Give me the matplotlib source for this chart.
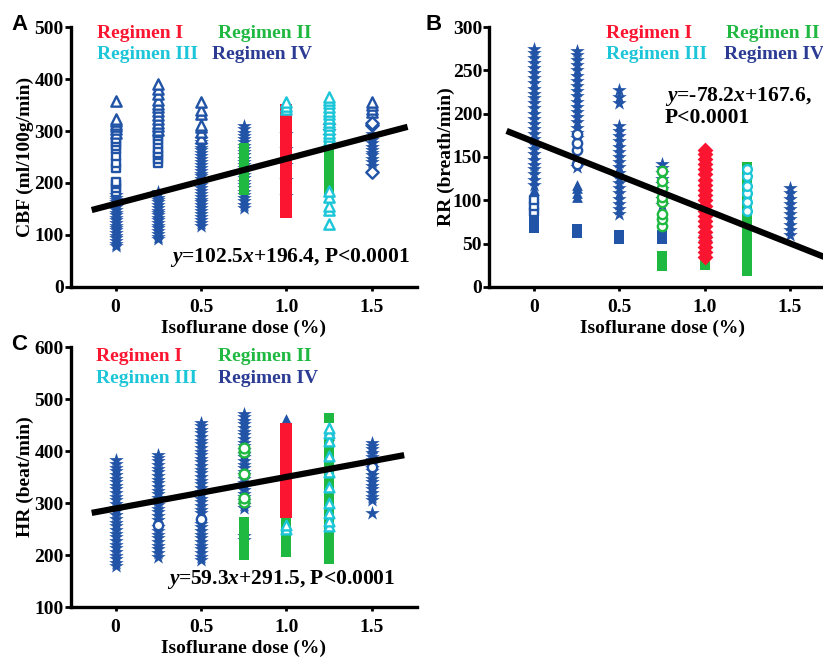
import matplotlib
matplotlib.use('Agg')
import matplotlib.pyplot as plt

plt.rcParams['font.family'] = 'Liberation Serif'
plt.rcParams['font.weight'] = 'bold'
plt.rcParams['axes.labelweight'] = 'bold'
plt.rcParams['mathtext.fontset'] = 'custom'
plt.rcParams['mathtext.it'] = 'Liberation Serif:italic:bold'
plt.rcParams['mathtext.rm'] = 'Liberation Serif:bold'

BLUE = '#2153a6'
RED = '#fb1530'
GREEN = '#1fb841'
CYAN = '#1cc6d8'
NAVY = '#2c3c94'

# ---------------- A: CBF (ml/100g/min) ----------------
cbf_iv_star = {
    0: [78, 83, 88, 94, 99, 104, 109, 113, 118, 124, 129, 133, 138, 143, 149, 154, 158, 163, 168, 172, 177],
    0.25: [92, 97, 102, 108, 113, 117, 123, 128, 132, 138, 143, 147, 152, 158, 163, 167, 172, 178, 183],
    0.5: [118, 124, 129, 135, 141, 146, 152, 157, 163, 168, 174, 179, 185, 191, 196, 201, 207, 213, 218,
          224, 229, 235, 241, 246, 252, 258, 263, 268, 274, 279, 285],
    0.75: [152, 158, 165, 171, 177, 183, 190, 196, 202, 209, 215, 221, 228, 234, 240, 246, 253, 259, 265,
           272, 278, 284, 291, 297, 303, 309],
    1.0: [175, 205, 235, 265, 295],
    1.25: [265, 290, 300, 310],
    1.5: [232, 240, 246, 253, 258, 264, 270, 276, 282, 288, 294],
}
cbf_iv_square = {
    0: [183, 190, 198, 201, 229, 238, 252, 265, 272, 279, 284],
    0.25: [238, 246, 253, 258, 266, 275, 282, 291, 297],
}
cbf_iv_tri = {
    0: [296, 303, 309, 314, 319, 324, 357],
    0.25: [302, 309, 316, 324, 331, 338, 346, 352, 360, 372, 380, 390],
    0.5: [287, 298, 308, 312, 333, 341, 356],
    1.5: [337, 343, 350, 356],
}
cbf_iv_circ = {1.5: [222, 312, 316]}
cbf_i = {1.0: [145, 152, 158, 165, 171, 178, 184, 191, 197, 204, 210, 217, 223, 230, 236, 243, 249, 256,
               262, 269, 275, 282, 288, 295, 301, 308, 314, 321, 327, 334, 340]}
cbf_ii = {
    0.75: [186, 192, 199, 205, 212, 218, 225, 231, 238, 244, 251, 257, 263, 268],
    1.25: [187, 193, 200, 206, 213, 219, 226, 232, 239, 245, 252, 258, 265, 271, 278],
}
cbf_iii = {
    1.0: [342, 348, 355],
    1.25: [122, 148, 155, 174, 184, 283, 290, 297, 304, 311, 318, 325, 332, 339, 346, 353, 360, 365],
}
cbf_fit_x = [-0.14, 1.71]
cbf_fit_y = [148, 308]

# ---------------- B: RR (breath/min) ----------------
rr_iv_star = {
    0: [118, 124, 130, 136, 141, 147, 153, 159, 165, 171, 177, 182, 188, 194, 200, 206, 212, 218, 223,
        229, 235, 241, 247, 253, 259, 264, 270, 275],
    0.25: [172, 178, 184, 190, 196, 202, 208, 214, 220, 226, 232, 238, 244, 250, 256, 262, 268, 272, 138],
    0.5: [84, 90, 96, 102, 108, 114, 120, 126, 132, 138, 144, 150, 156, 162, 168, 174, 180, 186, 212, 219, 227],
    0.75: [95, 101, 107, 113, 119, 125, 131, 137, 142],
    1.0: [52, 58],
    1.5: [60, 66, 72, 78, 84, 90, 96, 102, 108, 114],
}
rr_iv_square = {
    0: [68, 73, 78],
    0.25: [62, 67],
    0.5: [55, 60],
    0.75: [55, 60],
}
rr_iv_open_sq = {0: [86, 93, 100]}
rr_iv_tri = {0: [112], 0.25: [104, 109, 114, 118]}
rr_iv_circ = {0.25: [142, 158, 166, 176]}
rr_i = {1.0: [35, 40, 46, 52, 58, 64, 70, 76, 82, 88, 94, 100, 106, 112, 118, 124, 130, 136, 142, 148, 154, 158]}
rr_ii = {
    0.75: [24, 28, 32, 36],
    1.0: [25, 30],
    1.25: [18, 24, 30, 36, 42, 48, 54, 60, 66, 72, 78, 84, 90, 96, 102, 108, 114, 120, 126, 132, 138],
}
rr_ii_circ = {0.75: [70, 78, 84, 98, 104, 114, 122, 134]}
rr_iii = {1.25: [88, 98, 108, 116, 128, 136]}
rr_fit_x = [-0.16, 1.71]
rr_fit_y = [180.1, 33.9]

# ---------------- C: HR (beat/min) ----------------
hr_iv_star = {
    0: [178, 185, 192, 199, 206, 213, 220, 227, 234, 241, 248, 255, 262, 270, 277, 284, 291, 298, 305, 312,
        319, 326, 333, 340, 347, 354, 361, 368, 375, 382],
    0.25: [197, 204, 211, 218, 225, 232, 239, 246, 253, 268, 275, 282, 289, 296, 303, 310, 317, 324, 331,
           338, 345, 352, 359, 366, 373, 380, 387, 393],
    0.5: [190, 197, 204, 211, 218, 225, 232, 239, 246, 253, 260, 280, 287, 294, 301, 308, 315, 322, 329, 336,
          343, 350, 357, 364, 371, 378, 385, 392, 399, 406, 413, 420, 427, 434, 441, 448, 454],
    0.75: [228, 236, 290, 297, 304, 311, 318, 325, 332, 339, 346, 353, 360, 367, 374, 381, 388, 395, 402,
           409, 416, 423, 430, 437, 444, 451, 458, 465, 472],
    1.5: [280, 305, 312, 319, 326, 333, 340, 347, 354, 361, 368, 375, 382, 389, 396, 403, 410, 416],
}
hr_iv_tri = {1.0: [455, 462], 1.25: [420, 430, 440], 1.5: [405]}
hr_iv_circ = {0.25: [258], 0.5: [270], 1.5: [370]}
hr_i = {1.0: [282, 289, 296, 303, 310, 317, 324, 331, 338, 345, 352, 359, 366, 373, 380, 387, 394, 401,
              408, 415, 422, 429, 436, 443]}
hr_ii = {
    0.75: [200, 207, 214, 221, 228, 235, 242, 249, 256, 263],
    1.0: [205, 212, 219, 226, 233, 240, 247, 254, 261, 268, 275],
    1.25: [193, 200, 207, 214, 221, 228, 235, 242, 249, 256, 263, 270, 277, 284, 291, 298, 305, 312, 319,
           326, 333, 340, 347, 354, 361, 368, 375, 382, 389, 396, 403, 410, 417, 463],
}
hr_ii_circ = {0.75: [302, 310, 355, 398, 405]}
hr_iii = {1.0: [250, 258], 1.25: [255, 265, 280, 300, 330, 360, 390, 420, 435, 445]}
hr_fit_x = [-0.14, 1.69]
hr_fit_y = [281, 392]

legend_names = ['Regimen I', 'Regimen II', 'Regimen III', 'Regimen IV']
legend_colors = [RED, GREEN, CYAN, NAVY]


def draw(ax, groups, marker, color, s, open_=False):
    for dose, vals in groups.items():
        if open_:
            ax.scatter([dose] * len(vals), vals, marker=marker, s=s, facecolors='white',
                       edgecolors=color, linewidths=1.7, zorder=3)
        else:
            ax.scatter([dose] * len(vals), vals, marker=marker, s=s, color=color,
                       linewidths=0, zorder=2)


def style(ax, ylim, yticks, ylabel, lab_x, legend_pos, rows):
    ax.set_xlim(-0.263, 1.765)
    ax.set_ylim(*ylim)
    ax.set_yticks(yticks)
    ax.set_xticks([0, 0.5, 1.0, 1.5])
    ax.set_xticklabels(['0', '0.5', '1.0', '1.5'])
    for sp in ['top', 'right']:
        ax.spines[sp].set_visible(False)
    for sp in ['left', 'bottom']:
        ax.spines[sp].set_linewidth(2.4)
    ax.tick_params(axis='y', length=4, width=2, pad=1, labelsize=14)
    ax.tick_params(axis='x', length=3, width=2, pad=6, labelsize=14)
    ax.set_ylabel(ylabel, fontsize=14)
    ax.yaxis.set_label_coords(lab_x, 0.5)
    ax.set_xlabel('Isoflurane dose (%)', fontsize=14)
    ax.xaxis.set_label_coords(0.5, -0.125)
    (x1, x2), (r1, r2) = legend_pos, rows
    pos = [(x1, r1), (x2[0], r1), (x1, r2), (x2[1], r2)]
    for (px, py), name, c in zip(pos, legend_names, legend_colors):
        ax.text(px, py, name, transform=ax.transAxes, color=c, fontsize=14,
                ha='left', va='center', clip_on=False)


fig = plt.figure(figsize=(8.23, 6.57), dpi=100)
W, H = 823, 657
axA = fig.add_axes([70.7 / W, 1 - 287 / H, 346.3 / W, 260 / H])
axB = fig.add_axes([489 / W, 1 - 287 / H, 346.3 / W, 260 / H])
axC = fig.add_axes([70.7 / W, 1 - 607 / H, 346.3 / W, 260 / H])

# panel A
draw(axA, cbf_iv_star, '*', BLUE, 120)
draw(axA, cbf_iv_square, 's', BLUE, 40, open_=True)
draw(axA, cbf_iv_tri, '^', BLUE, 55, open_=True)
draw(axA, cbf_iv_circ, 'D', BLUE, 40, open_=True)
draw(axA, cbf_ii, 's', GREEN, 60)
draw(axA, cbf_i, 's', RED, 65)
draw(axA, cbf_iii, '^', CYAN, 55, open_=True)
axA.plot(cbf_fit_x, cbf_fit_y, color='black', lw=4.5, zorder=5, solid_capstyle='butt')
style(axA, (0, 500), range(0, 501, 100), 'CBF (ml/100g/min)', -0.105,
      (0.076, (0.425, 0.408)), (0.975, 0.895))
axA.text(0.287, 0.112, '$y$=102.5$x$+196.4, P<0.0001', transform=axA.transAxes,
         fontsize=15.5, ha='left', va='center', zorder=6)

# panel B
draw(axB, rr_iv_star, '*', BLUE, 120)
draw(axB, rr_iv_square, 's', BLUE, 50)
draw(axB, rr_iv_open_sq, 's', BLUE, 40, open_=True)
draw(axB, rr_iv_tri, '^', BLUE, 60)
draw(axB, rr_iv_circ, 'o', BLUE, 45, open_=True)
draw(axB, rr_ii, 's', GREEN, 60)
draw(axB, rr_ii_circ, 'o', GREEN, 45, open_=True)
draw(axB, rr_i, 'D', RED, 65)
draw(axB, rr_iii, 'o', CYAN, 40, open_=True)
axB.plot(rr_fit_x, rr_fit_y, color='black', lw=4.5, zorder=5, solid_capstyle='butt')
style(axB, (0, 300), range(0, 301, 50), 'RR (breath/min)', -0.098,
      (0.338, (0.684, 0.679)), (0.975, 0.895))
axB.text(0.508, 0.731, '$y$=-78.2$x$+167.6,', transform=axB.transAxes,
         fontsize=15.5, ha='left', va='center', zorder=6)
axB.text(0.508, 0.65, 'P<0.0001', transform=axB.transAxes,
         fontsize=15.5, ha='left', va='center', zorder=6)

# panel C
draw(axC, hr_iv_star, '*', BLUE, 120)
draw(axC, hr_iv_tri, '^', BLUE, 60)
draw(axC, hr_iv_circ, 'o', BLUE, 45, open_=True)
draw(axC, hr_ii, 's', GREEN, 60)
draw(axC, hr_ii_circ, 'o', GREEN, 50, open_=True)
draw(axC, hr_i, 's', RED, 65)
draw(axC, hr_iii, '^', CYAN, 50, open_=True)
axC.plot(hr_fit_x, hr_fit_y, color='black', lw=4.5, zorder=5, solid_capstyle='butt')
style(axC, (100, 600), range(100, 601, 100), 'HR (beat/min)', -0.105,
      (0.073, (0.425, 0.425)), (0.962, 0.877))
axC.text(0.278, 0.104, '$y$=59.3$x$+291.5, P<0.0001', transform=axC.transAxes,
         fontsize=15.5, ha='left', va='center', zorder=6)

for lab, x, y in [('A', 11, 24), ('B', 425, 24), ('C', 11, 345)]:
    fig.text(x / W, 1 - y / H, lab, family='Liberation Sans', fontweight='bold',
             fontsize=16, ha='left', va='center')

fig.savefig('out.png', dpi=100)
